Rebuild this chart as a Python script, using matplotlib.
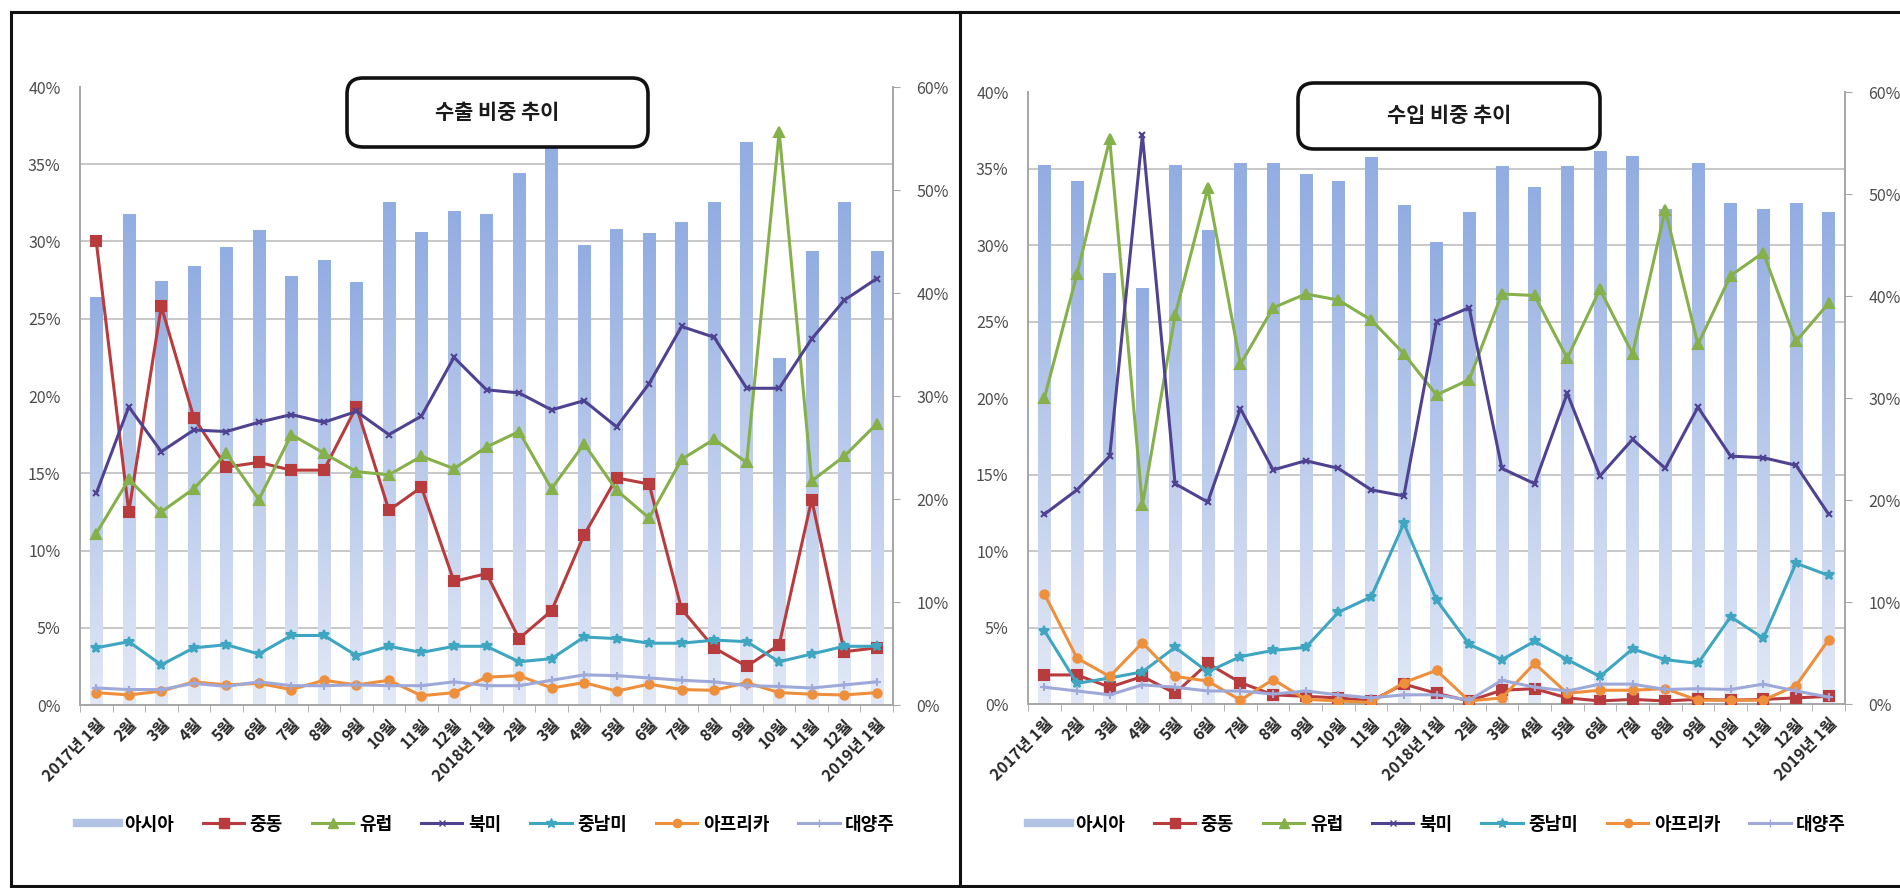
import numpy as np
import matplotlib
matplotlib.use('Agg')
import matplotlib.pyplot as plt
from matplotlib.patches import FancyBboxPatch
from matplotlib.lines import Line2D
from matplotlib.colors import LinearSegmentedColormap

plt.rcParams['font.family'] = ['Noto Sans CJK KR', 'DejaVu Sans']

# ---------------- data ----------------
months = ['2017년 1월', '2월', '3월', '4월', '5월', '6월', '7월', '8월', '9월', '10월', '11월', '12월',
          '2018년 1월', '2월', '3월', '4월', '5월', '6월', '7월', '8월', '9월', '10월', '11월', '12월',
          '2019년 1월']
series_names = ['아시아', '중동', '유럽', '북미', '중남미', '아프리카', '대양주']
titles = ['수출 비중 추이', '수입 비중 추이']

# export shares (%); 아시아 on the right axis (0-60%), others on the left axis (0-40%)
exp_asia = [39.6, 47.6, 41.1, 42.6, 44.4, 46.1, 41.6, 43.2, 41.0, 48.8, 45.9, 47.9, 47.6,
            51.6, 54.5, 44.6, 46.2, 45.8, 46.8, 48.8, 54.6, 33.6, 44.0, 48.8, 44.0]
exp_me = [30.0, 12.5, 25.8, 18.6, 15.4, 15.7, 15.2, 15.2, 19.3, 12.6, 14.1, 8.0, 8.5,
          4.3, 6.1, 11.0, 14.7, 14.3, 6.2, 3.7, 2.5, 3.9, 13.3, 3.45, 3.7]
exp_eu = [11.1, 14.6, 12.5, 14.0, 16.3, 13.3, 17.5, 16.3, 15.1, 14.9, 16.1, 15.3, 16.7,
          17.7, 14.0, 16.9, 13.9, 12.1, 15.9, 17.2, 15.7, 37.1, 14.5, 16.1, 18.2]
exp_na = [13.7, 19.3, 16.4, 17.8, 17.7, 18.3, 18.8, 18.3, 19.0, 17.5, 18.7, 22.5, 20.4,
          20.2, 19.1, 19.7, 18.0, 20.8, 24.5, 23.8, 20.5, 20.5, 23.7, 26.2, 27.6]
exp_la = [3.7, 4.1, 2.6, 3.7, 3.9, 3.3, 4.5, 4.5, 3.2, 3.8, 3.4, 3.8, 3.8,
          2.8, 3.0, 4.4, 4.3, 4.0, 4.0, 4.2, 4.1, 2.8, 3.3, 3.8, 3.8]
exp_af = [0.8, 0.65, 0.9, 1.5, 1.3, 1.4, 1.0, 1.6, 1.3, 1.6, 0.6, 0.8, 1.8,
          1.9, 1.1, 1.45, 0.9, 1.35, 1.0, 0.95, 1.45, 0.8, 0.7, 0.65, 0.8]
exp_oc = [1.1, 1.0, 1.0, 1.4, 1.2, 1.5, 1.25, 1.25, 1.3, 1.25, 1.25, 1.5, 1.25,
          1.25, 1.6, 1.95, 1.9, 1.75, 1.6, 1.5, 1.25, 1.2, 1.1, 1.3, 1.5]

# import shares (%)
imp_asia = [52.8, 51.2, 42.2, 40.7, 52.8, 46.4, 53.0, 53.0, 51.9, 51.2, 53.6, 48.9, 45.2,
            48.2, 52.7, 50.6, 52.7, 54.2, 53.7, 48.5, 53.0, 49.1, 48.5, 49.1, 48.2]
imp_me = [1.9, 1.9, 1.1, 1.8, 0.7, 2.65, 1.4, 0.6, 0.5, 0.4, 0.2, 1.3, 0.7,
          0.2, 0.9, 1.0, 0.4, 0.2, 0.3, 0.2, 0.3, 0.25, 0.3, 0.4, 0.5]
imp_eu = [20.0, 28.1, 36.9, 13.0, 25.4, 33.7, 22.2, 25.9, 26.8, 26.4, 25.1, 22.9, 20.2,
          21.2, 26.8, 26.7, 22.6, 27.1, 22.9, 32.3, 23.5, 28.0, 29.5, 23.7, 26.2]
imp_na = [12.4, 14.0, 16.2, 37.2, 14.4, 13.2, 19.3, 15.3, 15.9, 15.4, 14.0, 13.6, 25.0,
          25.9, 15.4, 14.4, 20.3, 14.9, 17.3, 15.4, 19.4, 16.2, 16.1, 15.6, 12.4]
imp_la = [4.8, 1.35, 1.7, 2.1, 3.7, 2.1, 3.1, 3.5, 3.7, 6.0, 7.0, 11.8, 6.8,
          3.9, 2.9, 4.1, 2.9, 1.8, 3.6, 2.9, 2.65, 5.7, 4.3, 9.2, 8.4]
imp_af = [7.2, 3.0, 1.8, 4.0, 1.8, 1.5, 0.25, 1.6, 0.3, 0.2, 0.1, 1.4, 2.2,
          0.2, 0.4, 2.65, 0.7, 0.9, 0.9, 1.0, 0.25, 0.25, 0.25, 1.2, 4.2]
imp_oc = [1.1, 0.85, 0.6, 1.25, 1.1, 0.85, 0.85, 0.65, 0.85, 0.6, 0.4, 0.6, 0.6,
          0.25, 1.55, 1.1, 0.85, 1.3, 1.3, 0.95, 1.0, 0.95, 1.3, 0.85, 0.45]

# ---------------- styles ----------------
line_colors = ['#b83b3e', '#86b04a', '#4f4391', '#3ea6c0', '#ee8f3c', '#9ea9d9']
line_markers = ['s', '^', 'x', '*', 'o', '+']
marker_sizes = [7, 7, 5, 7, 6, 6]
bar_top, bar_bottom = '#92ade1', '#e3e9f6'
grid_col = '#c8c8c8'
axis_col = '#a6a6a6'
tick_col = '#4d4d4d'

W, H, DPI = 1900, 888, 100
fig = plt.figure(figsize=(W / DPI, H / DPI), dpi=DPI)
fig.patch.set_facecolor('white')

cmap = LinearSegmentedColormap.from_list('bargrad', [bar_bottom, bar_top])
grad = np.linspace(0, 1, 256).reshape(-1, 1)


def px_rect(x0, y0, x1, y1):
    return [x0 / W, 1 - y1 / H, (x1 - x0) / W, (y1 - y0) / H]


def draw_panel(rect_px, asia, lines, title, box_px, legend_center_px):
    rect = px_rect(*rect_px)
    axb = fig.add_axes(rect)
    axl = fig.add_axes(rect, sharex=axb)
    axl.patch.set_visible(False)

    x = np.arange(len(months))
    # --- bars (아시아, right axis) ---
    bars = axb.bar(x, asia, width=0.38, color='none', edgecolor='none', zorder=2)
    for b in bars:
        bx, bw, bh = b.get_x(), b.get_width(), b.get_height()
        axb.imshow(grad, extent=(bx, bx + bw, 0, bh), origin='lower', aspect='auto',
                   cmap=cmap, zorder=2, interpolation='bilinear')
    axb.set_xlim(-0.5, len(months) - 0.5)
    axb.set_ylim(0, 60)
    axb.set_yticks(np.arange(0, 61, 10))
    axb.set_yticklabels(['{:.0f}%'.format(v) for v in np.arange(0, 61, 10)])
    axb.set_yticks(np.arange(0, 60.1, 7.5), minor=True)
    axb.yaxis.tick_right()
    axb.tick_params(axis='y', which='major', length=5, color=axis_col, labelsize=11.5,
                    labelcolor=tick_col, pad=12)
    axb.tick_params(axis='y', which='minor', length=0)
    axb.yaxis.grid(True, which='minor', color=grid_col, lw=1.4, zorder=0)
    axb.yaxis.grid(False, which='major')
    axb.set_axisbelow(True)
    axb.set_xticks(x)
    axb.set_xticklabels(months, rotation=45, ha='right', va='top', rotation_mode='anchor',
                        fontsize=11.5, fontweight='bold', color='#262626')
    axb.set_xticks(np.arange(-0.5, len(months), 1), minor=True)
    axb.tick_params(axis='x', which='major', length=0, pad=8)
    axb.tick_params(axis='x', which='minor', length=5, color=axis_col)
    axb.spines['top'].set_visible(False)
    for s in ['left', 'right', 'bottom']:
        axb.spines[s].set_color(axis_col)
        axb.spines[s].set_linewidth(1.4)

    # --- lines (left axis) ---
    for vals, c, m, ms in zip(lines, line_colors, line_markers, marker_sizes):
        axl.plot(x, vals, color=c, lw=2.2, marker=m, ms=ms, mec=c, mfc=c, mew=1.5, zorder=3)
    axl.set_ylim(0, 40)
    axl.set_yticks(np.arange(0, 41, 5))
    axl.set_yticklabels(['{:.0f}%'.format(v) for v in np.arange(0, 41, 5)])
    axl.tick_params(axis='y', length=0, labelsize=11.5, labelcolor=tick_col, pad=14)
    axl.tick_params(axis='x', which='both', length=0, labelbottom=False)
    for s in axl.spines.values():
        s.set_visible(False)

    # --- title box ---
    bx0, by0, bx1, by1 = box_px
    box = FancyBboxPatch((bx0 / DPI, (H - by1) / DPI), (bx1 - bx0) / DPI, (by1 - by0) / DPI,
                         boxstyle='round,pad=0,rounding_size=0.16',
                         transform=fig.dpi_scale_trans, facecolor='white',
                         edgecolor='#111111', lw=2.6, zorder=10)
    fig.add_artist(box)
    fig.text((bx0 + bx1) / 2 / W, 1 - (by0 + by1) / 2 / H, title, ha='center', va='center',
             fontsize=15, fontweight='bold', color='#1a1a1a', zorder=11)

    # --- legend ---
    handles = [Line2D([], [], color='#b3c3e6', lw=6)]
    for c, m, ms in zip(line_colors, line_markers, marker_sizes):
        handles.append(Line2D([], [], color=c, lw=2.2, marker=m, ms=ms, mec=c, mfc=c))
    cx, cy = legend_center_px
    fig.legend(handles, series_names, loc='center', bbox_to_anchor=(cx / W, 1 - cy / H),
               ncol=7, frameon=False, handlelength=2.3, handletextpad=0.3,
               columnspacing=1.6, prop={'weight': 'bold', 'size': 13})


draw_panel((80, 87, 893, 705), exp_asia,
           [exp_me, exp_eu, exp_na, exp_la, exp_af, exp_oc], titles[0],
           (347, 78, 648, 147), (486, 824))
draw_panel((1028, 92, 1845, 704), imp_asia,
           [imp_me, imp_eu, imp_na, imp_la, imp_af, imp_oc], titles[1],
           (1298, 83, 1600, 149), (1437, 824))

# outer frame lines
for xs, ys in [((11, 11), (12, 886)), ((960, 960), (12, 886)),
               ((11, 1899), (12, 12)), ((11, 1899), (886, 886))]:
    fig.add_artist(Line2D([xs[0] / W, xs[1] / W], [1 - ys[0] / H, 1 - ys[1] / H],
                          transform=fig.transFigure, color='#111111', lw=2.2))

fig.savefig('out.png', dpi=DPI, facecolor='white')
